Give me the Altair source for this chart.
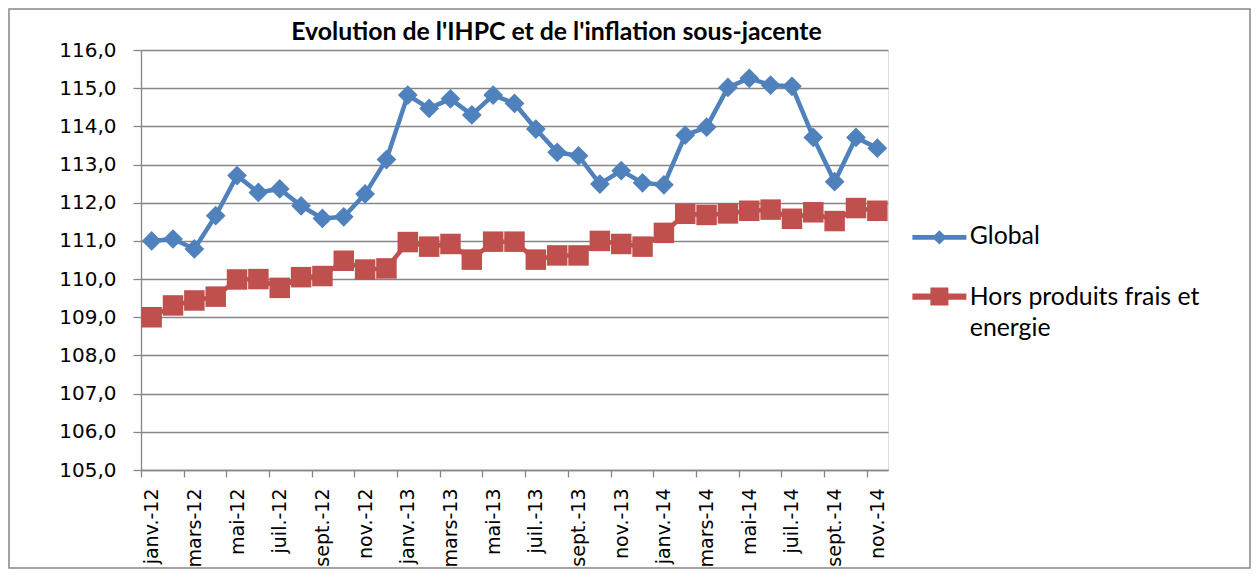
import json
import altair as alt
import pandas as pd

months = [
    "janv.-12", "févr.-12", "mars-12", "avr.-12", "mai-12", "juin-12",
    "juil.-12", "août-12", "sept.-12", "oct.-12", "nov.-12", "déc.-12",
    "janv.-13", "févr.-13", "mars-13", "avr.-13", "mai-13", "juin-13",
    "juil.-13", "août-13", "sept.-13", "oct.-13", "nov.-13", "déc.-13",
    "janv.-14", "févr.-14", "mars-14", "avr.-14", "mai-14", "juin-14",
    "juil.-14", "août-14", "sept.-14", "oct.-14", "nov.-14",
]
global_vals = [
    111.00, 111.05, 110.79, 111.66, 112.71, 112.27, 112.36, 111.92, 111.59, 111.63, 112.23, 113.13,
    114.82, 114.47, 114.72, 114.30, 114.82, 114.60, 113.93, 113.32, 113.23, 112.49, 112.84, 112.52,
    112.47, 113.77, 113.98, 115.02, 115.26, 115.08, 115.05, 113.71, 112.55, 113.71, 113.43,
]
core_vals = [
    109.00, 109.31, 109.44, 109.54, 109.99, 110.00, 109.77, 110.05, 110.08, 110.48, 110.25, 110.28,
    110.97, 110.85, 110.92, 110.51, 110.98, 110.98, 110.51, 110.62, 110.62, 111.00, 110.92, 110.85,
    111.21, 111.71, 111.68, 111.72, 111.79, 111.82, 111.58, 111.75, 111.52, 111.86, 111.79,
]
series_names = ["Global", "Hors produits frais et energie"]
series_colors = ["#4F81BD", "#C0504D"]
y_ticks = [105, 106, 107, 108, 109, 110, 111, 112, 113, 114, 115, 116]
title_text = "Evolution de l'IHPC et de l'inflation sous-jacente"

rows = []
for i, m in enumerate(months):
    rows.append({"idx": i, "mois": m, "serie": series_names[0], "valeur": global_vals[i]})
    rows.append({"idx": i, "mois": m, "serie": series_names[1], "valeur": core_vals[i]})
df = pd.DataFrame(rows)

W, H = 747, 420
n = len(months)
band = W / n
tick_vals = [k - 0.5 for k in range(0, n, 2)]
label_expr = json.dumps(months, ensure_ascii=False) + "[datum.value + 0.5]"

x_scale = alt.Scale(domain=[-0.5, n - 0.5], nice=False, zero=False)
y_scale = alt.Scale(domain=[105, 116], nice=False, zero=False)

x_enc = alt.X(
    "idx:Q", scale=x_scale, title=None,
    axis=alt.Axis(values=tick_vals, tickCount=40, labelExpr=label_expr, labelOffset=band / 2,
                  labelAngle=-90, grid=False, tickSize=7, labelPadding=11,
                  labelFlush=False, labelOverlap=False,
                  labelFont="DejaVu Sans", labelFontSize=19, labelColor="black",
                  domainColor="#868686", tickColor="#868686", domainWidth=1.3, tickWidth=1.3),
)
y_enc = alt.Y(
    "valeur:Q", scale=y_scale, title=None,
    axis=alt.Axis(values=y_ticks, tickCount=40, labelExpr="replace(format(datum.value, '.1f'), '.', ',')",
                  grid=True, gridColor="#868686", gridWidth=1.3, tickSize=8, labelPadding=17,
                  labelOverlap=False, labelFlush=False,
                  labelFont="DejaVu Sans", labelFontSize=20, labelColor="black",
                  domainColor="#868686", tickColor="#868686", domainWidth=1.3, tickWidth=1.3),
)

base = alt.Chart(df)
g_data = base.transform_filter(alt.datum.serie == series_names[0])
c_data = base.transform_filter(alt.datum.serie == series_names[1])

g_line = g_data.mark_line(strokeWidth=4.5, color=series_colors[0]).encode(x=x_enc, y=y_enc)
c_line = c_data.mark_line(strokeWidth=4.5, color=series_colors[1]).encode(x="idx:Q", y="valeur:Q")

diamonds = g_data.mark_point(
    shape="diamond", filled=True, size=390, opacity=1, strokeWidth=0, color=series_colors[0]
).encode(x="idx:Q", y="valeur:Q")
squares = c_data.mark_point(
    shape="square", filled=True, size=420, opacity=1, strokeWidth=0, color=series_colors[1]
).encode(x="idx:Q", y="valeur:Q")

legend_paths = [
    "M-3,-0.26L3,-0.26L3,0.26L-3,0.26Z M0,-0.8L0.8,0L0,0.8L-0.8,0Z",
    "M-3,-0.55L3,-0.55L3,0.15L-3,0.15Z M-1,-1.2L1,-1.2L1,0.8L-1,0.8Z",
]
legend = alt.Legend(
    title=None, orient="none", legendX=786, legendY=175, padding=0,
    symbolSize=324, symbolOpacity=1, symbolStrokeWidth=0,
    labelFont="Lato", labelFontSize=24.8, labelColor="black", labelLimit=400,
    labelOffset=18, rowPadding=35,
    labelExpr="datum.label == 'Hors produits frais et energie' ? ['Hors produits frais et', 'energie'] : datum.label",
)
legend_layer = base.mark_point(filled=True, opacity=0, size=10, strokeWidth=0).encode(
    x="idx:Q", y="valeur:Q",
    color=alt.Color("serie:N", scale=alt.Scale(domain=series_names, range=series_colors), legend=legend),
    shape=alt.Shape("serie:N", scale=alt.Scale(domain=series_names, range=legend_paths), legend=legend),
)

border = alt.Chart(pd.DataFrame({"b": [0]})).mark_rect(
    fillOpacity=0, stroke="#868686", strokeWidth=1.5
).encode(x=alt.value(-132), x2=alt.value(W + 362), y=alt.value(-41), y2=alt.value(H + 98))

chart = alt.layer(g_line, c_line, diamonds, squares, legend_layer, border).properties(
    width=W, height=H,
    padding={"left": 133, "top": 42, "right": 363, "bottom": 99},
    autosize=alt.AutoSizeParams(type="none"),
    title=alt.TitleParams(title_text, font="Lato", fontSize=24.8, fontWeight="bold", color="black",
                          anchor="middle", frame="group", baseline="alphabetic", offset=-57, dx=42),
).configure_view(strokeWidth=0).configure(
    style={"guide-label": {"lineHeight": 31}}
)

chart.save("out.html", embed_options={"renderer": "svg", "actions": False})
